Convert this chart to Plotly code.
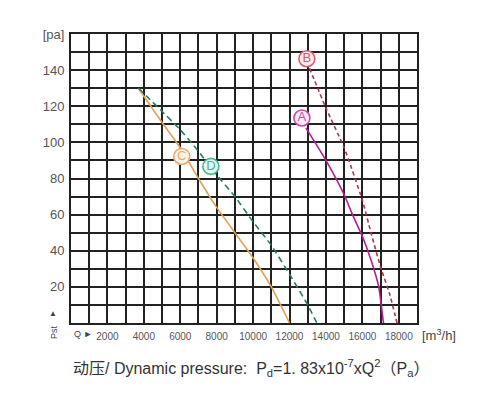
import plotly.graph_objects as go

# ---- data ----
x_tick_vals = list(range(0, 19001, 1000))
x_labels = {2000: "2000", 4000: "4000", 6000: "6000", 8000: "8000", 10000: "10000",
            12000: "12000", 14000: "14000", 16000: "16000", 18000: "18000"}
y_tick_vals = list(range(0, 161, 10))
y_labels = {20: "20", 40: "40", 60: "60", 80: "80", 100: "100", 120: "120", 140: "140", 160: "[pa]"}

a_q = [12900, 14000, 15000, 15500, 16000, 16500, 16900, 17050, 17160]
a_p = [108, 90, 71, 59, 48, 34, 20, 9, 0]

b_q = [13100, 14000, 15000, 16000, 16500, 17000, 17500, 17900]
b_p = [141, 119, 97, 68, 49, 31, 16, 0]

c_q = [3700, 5000, 6000, 7000, 8000, 9000, 10000, 11000, 12000]
c_p = [130, 111, 97, 80, 64, 50, 36, 20, 0]

d_q = [3700, 6000, 7000, 8000, 9000, 10000, 11000, 12000, 13000, 13500]
d_p = [130, 107, 95, 82, 70, 56, 43, 27, 10, 0]

tag_names = ["A", "B", "C", "D"]
tag_q = [12680, 12950, 6080, 7680]
tag_p = [113.5, 146.3, 92.2, 86.7]

line_colors = {"A": "#B3208F", "B": "#A8384E", "C": "#E3A158", "D": "#2C7C5F"}
ring_colors = {"A": "#C94AA8", "B": "#D0606F", "C": "#E9AA6C", "D": "#45B98A"}
ring_fill = {"A": "#FCEAF6", "B": "#FBEAEC", "C": "#FDF3E7", "D": "#E6F7EF"}
dashes = {"A": "solid", "B": "4px,3px", "C": "solid", "D": "6px,4px"}

fig = go.Figure()
series = {"A": (a_q, a_p), "B": (b_q, b_p), "C": (c_q, c_p), "D": (d_q, d_p)}
for name, (q, p) in series.items():
    fig.add_trace(go.Scatter(
        x=q, y=p, mode="lines", line=dict(color=line_colors[name], width=1.6,
                                          dash=dashes[name], shape="spline", smoothing=0.5),
        showlegend=False, hoverinfo="skip"))

for n, q, p in zip(tag_names, tag_q, tag_p):
    fig.add_trace(go.Scatter(
        x=[q], y=[p], mode="markers+text", text=[n], textposition="middle center",
        textfont=dict(family="Liberation Sans, Arial", size=13, color=ring_colors[n]),
        marker=dict(size=16, color=ring_fill[n], line=dict(color=ring_colors[n], width=1.6)),
        showlegend=False, hoverinfo="skip"))

grid_col = "#222222"
fig.update_xaxes(
    range=[0, 19000], tickmode="array", tickvals=x_tick_vals,
    ticktext=[x_labels.get(v, "") for v in x_tick_vals],
    showgrid=True, gridcolor=grid_col, gridwidth=2, zeroline=False,
    showline=True, linecolor=grid_col, linewidth=2, mirror=True,
    ticks="", tickfont=dict(family="Liberation Sans, Arial", size=10, color="#555555"),
    ticklabelstandoff=3)
fig.update_yaxes(
    range=[0, 160], tickmode="array", tickvals=y_tick_vals,
    ticktext=[y_labels.get(v, "") for v in y_tick_vals],
    showgrid=True, gridcolor=grid_col, gridwidth=2, zeroline=False,
    showline=True, linecolor=grid_col, linewidth=2, mirror=True,
    ticks="", tickfont=dict(family="Liberation Sans, Arial", size=13, color="#555555"),
    ticklabelstandoff=2)

txt = dict(family="Liberation Sans, Arial", color="#444444")
fig.add_annotation(xref="paper", yref="paper", x=1.0, y=0, xanchor="left", yanchor="top",
                   xshift=3, yshift=-2, text="[m<sup>3</sup>/h]", showarrow=False,
                   font=dict(size=13, **txt))
fig.add_annotation(xref="paper", yref="paper", x=0, y=0, xanchor="left", yanchor="top",
                   xshift=1, yshift=-4, text="Q ►", showarrow=False, font=dict(size=9, **txt))
fig.add_annotation(xref="paper", yref="paper", x=0, y=0, xanchor="right", yanchor="top",
                   xshift=-10, yshift=0, text="Pst", textangle=-90, showarrow=False,
                   font=dict(size=9, **txt))
fig.add_annotation(xref="paper", yref="paper", x=0, y=0, xanchor="right", yanchor="bottom",
                   xshift=-12, yshift=3, text="▲", showarrow=False, font=dict(size=8, **txt))
fig.add_annotation(xref="paper", yref="paper", x=0, y=0, xanchor="left", yanchor="middle",
                   xshift=0, yshift=-45,
                   text="动压/ Dynamic pressure:  P<sub>d</sub>=1. 83x10<sup>-7</sup>xQ<sup>2</sup>（P<sub>a</sub>）",
                   showarrow=False, font=dict(size=16, family="Liberation Sans, Noto Sans CJK SC, Arial",
                                              color="#333333"))

# page body has an 8px margin, so the figure is drawn from (8, 8)
fig.update_layout(
    width=470, height=378, autosize=False,
    margin=dict(l=63, r=61, t=26, b=63),
    plot_bgcolor="white", paper_bgcolor="white",
)

fig.write_html("out.html")
